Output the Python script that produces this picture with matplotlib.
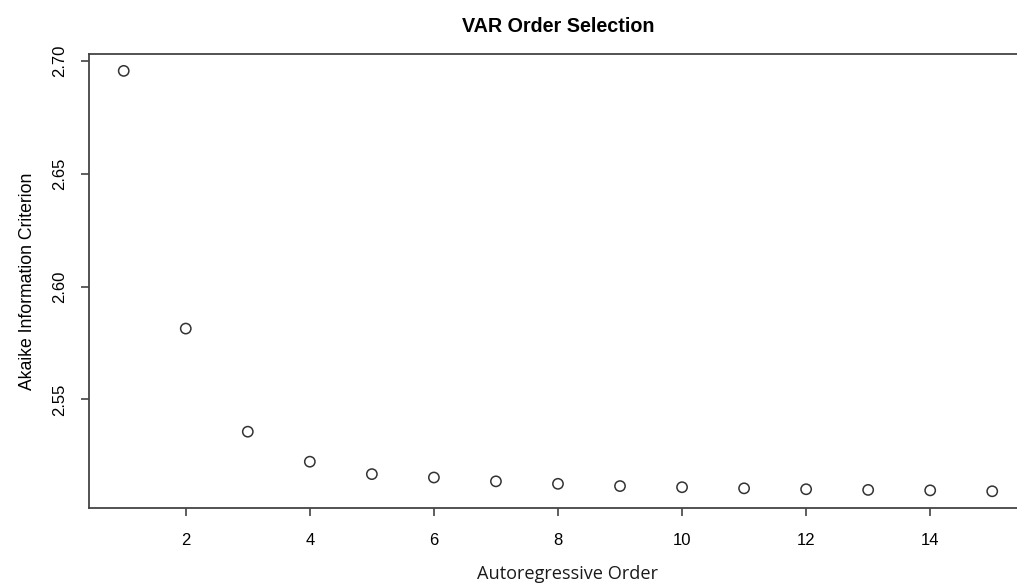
import matplotlib.pyplot as plt
import numpy as np

plt.rcParams['font.family'] = ['Liberation Sans', 'DejaVu Sans']

order = np.arange(1, 16)
aic = [2.6956, 2.5814, 2.5357, 2.5224, 2.5169, 2.5154, 2.5137, 2.5126,
       2.5116, 2.5111, 2.5106, 2.5102, 2.5099, 2.5097, 2.5093]
xticks = [2, 4, 6, 8, 10, 12, 14]
yticks = [2.55, 2.60, 2.65, 2.70]

fig = plt.figure(figsize=(10.17, 5.84), dpi=100)
# plot box runs past the right edge of the picture, as in the reference
ax = fig.add_axes([0.0875, 0.130, 0.9223, 0.7774])

ax.scatter(order, aic, s=55, facecolors='none', edgecolors='#333333', linewidths=1.1)

r = max(aic) - min(aic)
ax.set_xlim(1 - 0.04 * 14, 15 + 0.04 * 14)
ax.set_ylim(min(aic) - 0.04 * r, max(aic) + 0.04 * r)

ax.set_xticks(xticks)
ax.set_xticklabels([str(v) for v in xticks])
ax.set_yticks(yticks)
ax.set_yticklabels(["%.2f" % v for v in yticks], rotation=90, va='center')
ax.tick_params(axis='x', length=6, width=1.1, color='#333333', pad=12, labelsize=12)
ax.tick_params(axis='y', length=6, width=1.1, color='#333333', pad=10, labelsize=12)

for s in ax.spines.values():
    s.set_linewidth(1.3)
    s.set_color('#444444')

ax.set_title("VAR Order Selection", fontsize=14.2, fontweight='bold', pad=16)
ax.set_xlabel("Autoregressive Order", fontsize=13.1, labelpad=14,
              family=['Open Sans', 'DejaVu Sans'], color='#1a1a1a')
ax.xaxis.set_label_coords(0.51, -0.125)
ax.set_ylabel("Akaike Information Criterion", fontsize=12.7, labelpad=11)

fig.savefig("out.png", dpi=100)
